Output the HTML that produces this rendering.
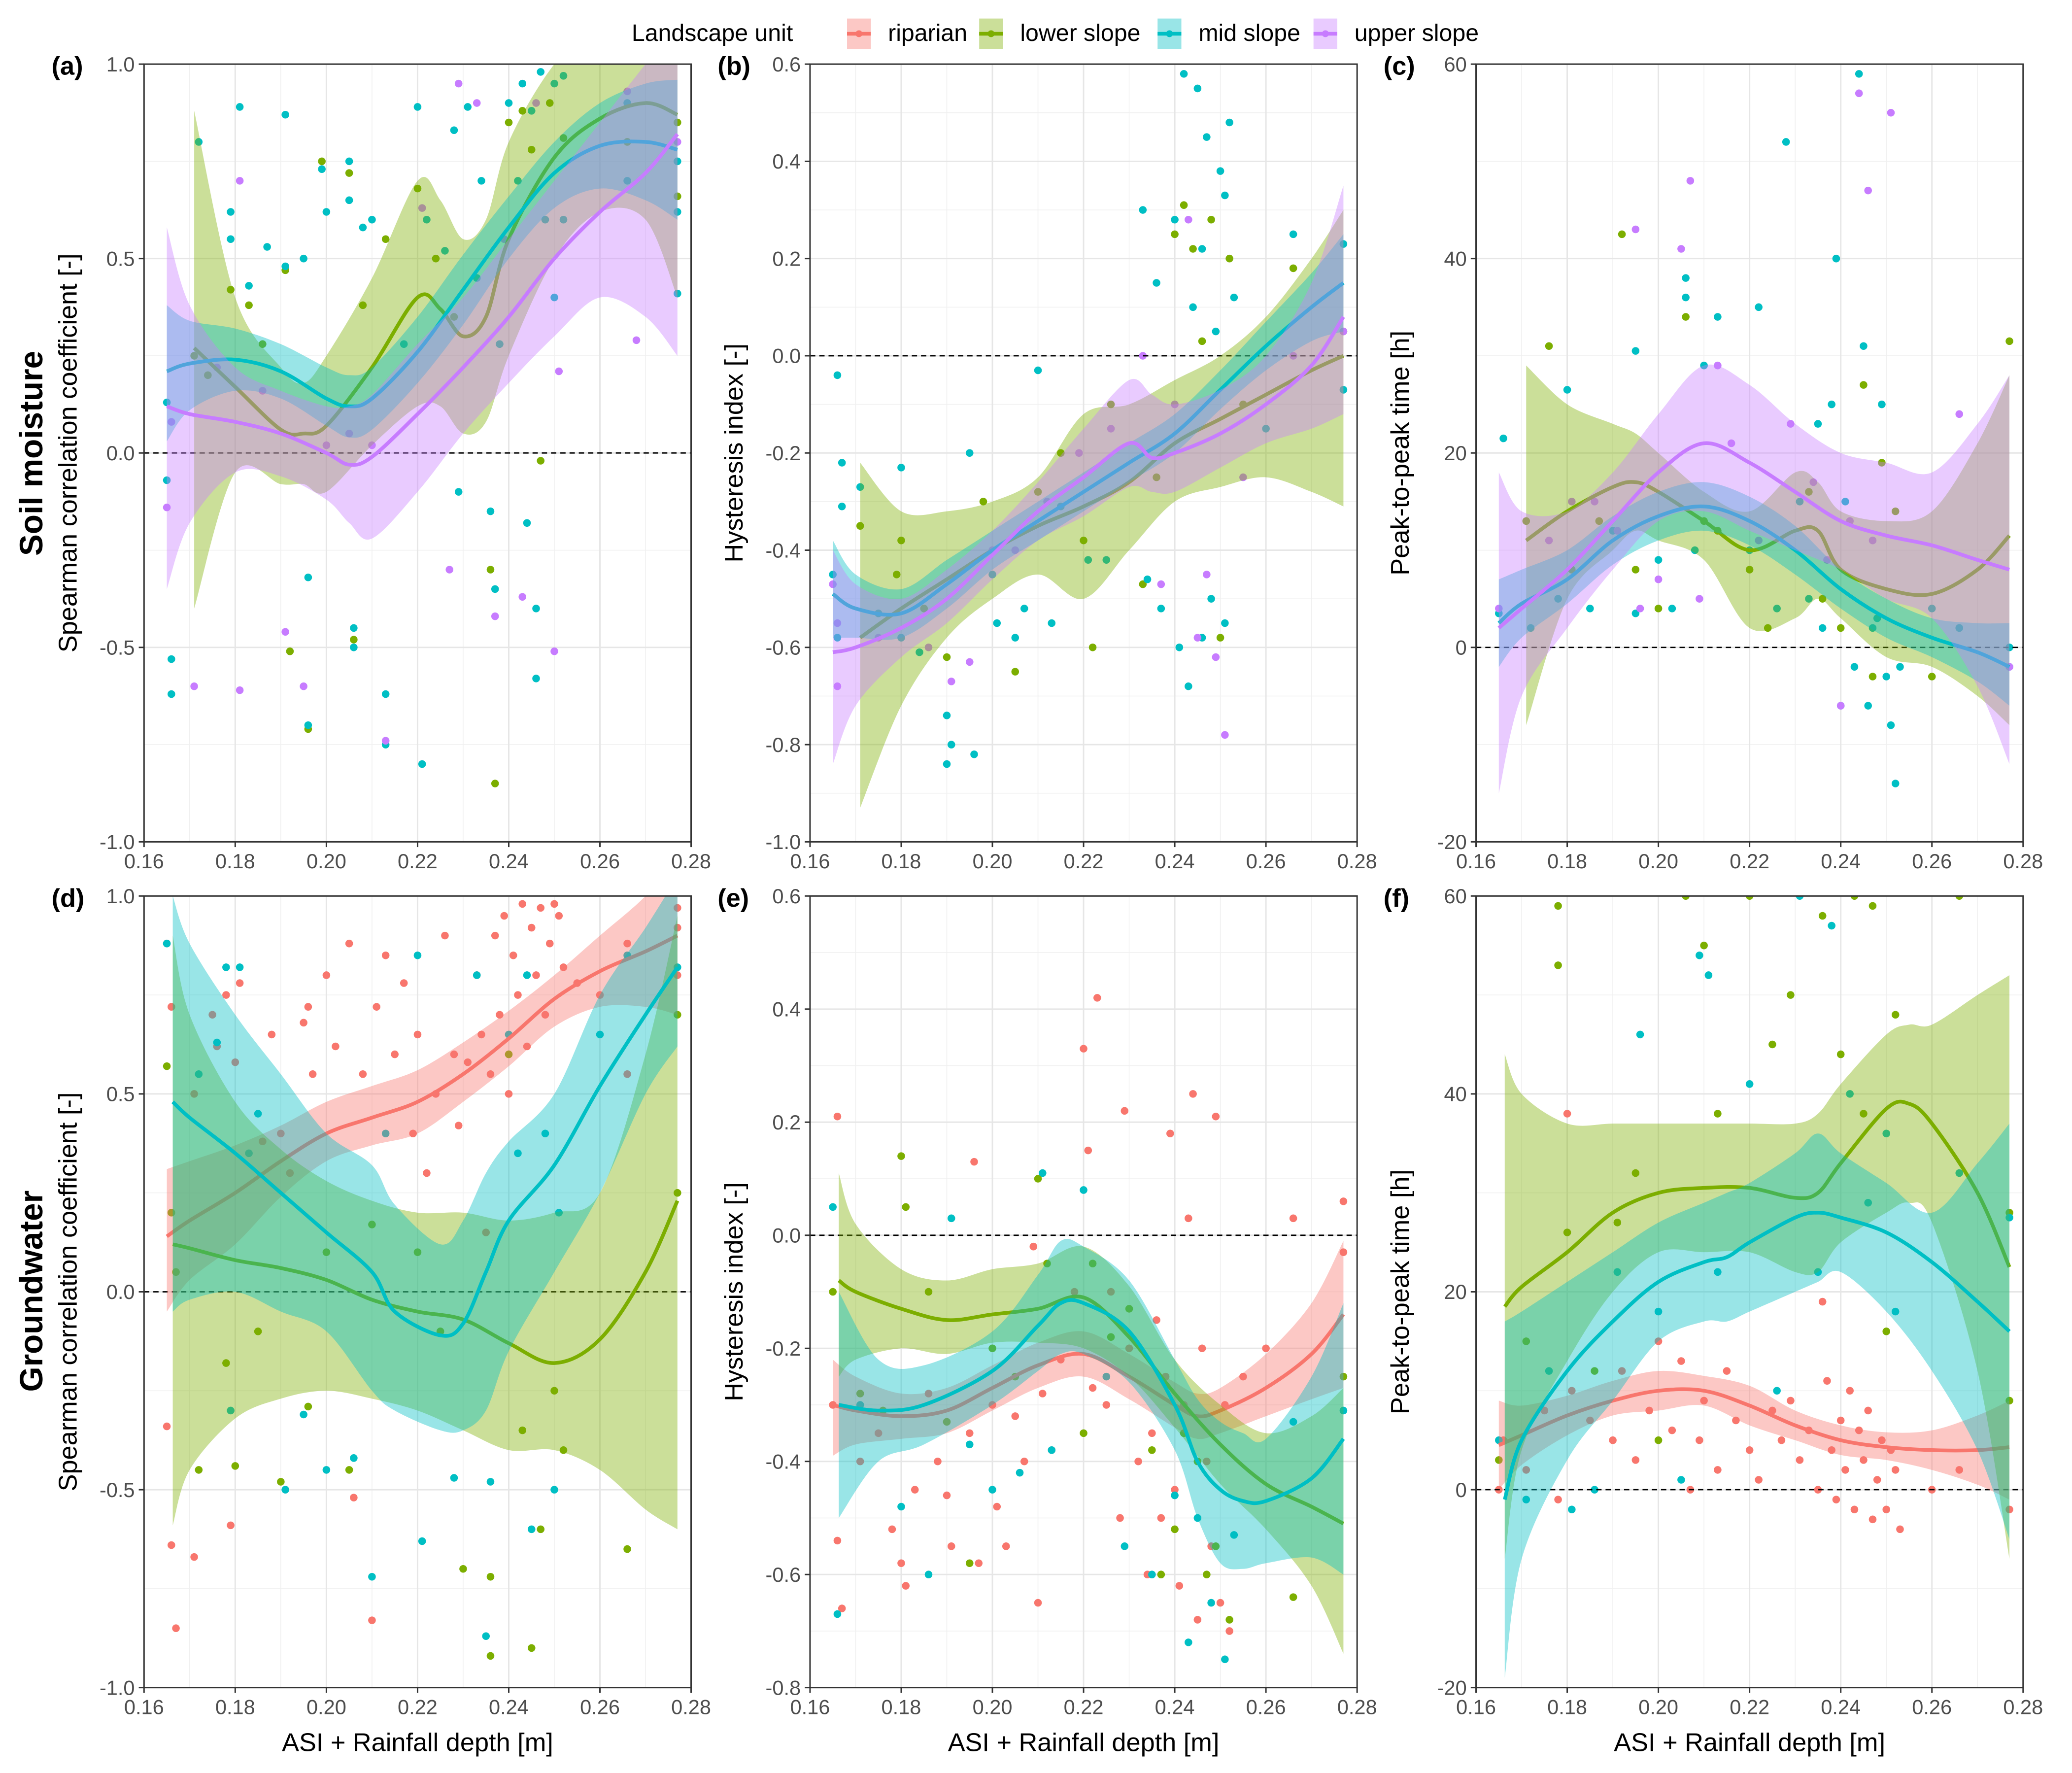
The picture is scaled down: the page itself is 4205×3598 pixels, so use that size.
<!DOCTYPE html>
<html><head><meta charset="utf-8">
<style>
html,body{margin:0;padding:0;background:#fff;}
svg{display:block;}
text{font-family:"Liberation Sans",Arial,sans-serif;}
</style></head>
<body>
<svg id="fig" xmlns="http://www.w3.org/2000/svg" width="4205" height="3598" viewBox="0 0 1568 1341.6">
<rect x="0" y="0" width="1568" height="1342" fill="#fff"/>
<g id="legend">
  <text x="478" y="31" font-size="18" fill="#000">Landscape unit</text>
</g>
</svg>
<script>
// ---------- data: points [x,y,...] ----------
const aMidPts=[0.165,0.13,0.165,-0.07,0.166,-0.53,0.166,-0.62,0.172,0.80,0.179,0.55,0.179,0.62,0.181,0.89,0.183,0.43,0.187,0.53,0.191,0.87,0.191,0.48,0.195,0.50,0.196,-0.32,0.196,-0.70,0.199,0.73,0.200,0.62,0.205,0.75,0.205,0.65,0.206,-0.45,0.206,-0.50,0.208,0.58,0.210,0.60,0.213,-0.62,0.213,-0.75,0.217,0.28,0.220,0.89,0.221,-0.80,0.222,0.60,0.226,0.52,0.228,0.83,0.229,-0.10,0.231,0.89,0.233,0.45,0.234,0.70,0.236,-0.15,0.237,-0.35,0.238,0.28,0.240,0.90,0.242,0.70,0.243,0.95,0.244,-0.18,0.245,0.88,0.246,-0.40,0.246,-0.58,0.247,0.98,0.248,0.60,0.250,0.95,0.250,0.40,0.252,0.97,0.252,0.60,0.266,0.90,0.266,0.70,0.277,0.75,0.277,0.62,0.277,0.41];
const aLowPts=[0.171,0.25,0.174,0.20,0.179,0.42,0.183,0.38,0.186,0.28,0.191,0.47,0.192,-0.51,0.196,-0.71,0.199,0.75,0.205,0.72,0.206,-0.48,0.208,0.38,0.213,0.55,0.220,0.68,0.224,0.50,0.228,0.35,0.236,-0.30,0.237,-0.85,0.240,0.85,0.243,0.88,0.245,0.78,0.247,-0.02,0.249,0.90,0.252,0.81,0.266,0.80,0.277,0.85,0.277,0.66];
const aUpPts=[0.165,-0.14,0.166,0.08,0.171,-0.60,0.176,0.22,0.181,0.70,0.181,-0.61,0.186,0.16,0.191,-0.46,0.195,-0.60,0.200,0.02,0.205,0.05,0.210,0.02,0.213,-0.74,0.221,0.63,0.227,-0.30,0.229,0.95,0.233,0.90,0.237,-0.42,0.239,0.55,0.243,-0.37,0.246,0.90,0.250,-0.51,0.251,0.21,0.266,0.93,0.268,0.29,0.277,0.80];
const bMidPts=[0.165,-0.45,0.166,-0.04,0.166,-0.58,0.167,-0.22,0.167,-0.31,0.171,-0.27,0.175,-0.53,0.180,-0.23,0.180,-0.58,0.184,-0.61,0.190,-0.74,0.190,-0.84,0.191,-0.80,0.195,-0.20,0.196,-0.82,0.200,-0.45,0.201,-0.55,0.205,-0.58,0.207,-0.52,0.210,-0.03,0.213,-0.55,0.215,-0.31,0.221,-0.42,0.225,-0.42,0.233,0.30,0.234,-0.46,0.236,0.15,0.237,-0.52,0.240,0.28,0.241,-0.60,0.242,0.58,0.243,-0.68,0.244,0.10,0.245,0.55,0.246,0.22,0.246,-0.58,0.247,0.45,0.248,-0.50,0.249,0.05,0.250,0.38,0.251,-0.55,0.251,0.33,0.252,0.48,0.253,0.12,0.260,-0.15,0.266,0.25,0.277,0.23,0.277,-0.07];
const bLowPts=[0.171,-0.35,0.179,-0.45,0.180,-0.38,0.185,-0.52,0.190,-0.62,0.198,-0.30,0.205,-0.65,0.210,-0.28,0.215,-0.20,0.220,-0.38,0.222,-0.60,0.226,-0.10,0.233,-0.47,0.236,-0.25,0.240,0.25,0.242,0.31,0.244,0.22,0.246,0.03,0.248,0.28,0.250,-0.58,0.252,0.20,0.255,-0.10,0.266,0.18,0.277,0.05];
const bUpPts=[0.165,-0.47,0.166,-0.68,0.166,-0.55,0.175,-0.58,0.186,-0.60,0.191,-0.67,0.195,-0.63,0.200,-0.40,0.205,-0.40,0.212,-0.30,0.219,-0.20,0.226,-0.15,0.233,0.00,0.237,-0.47,0.240,-0.10,0.243,0.28,0.245,-0.58,0.247,-0.45,0.249,-0.62,0.251,-0.78,0.255,-0.25,0.266,0.00,0.277,0.05];
const cMidPts=[0.165,3.5,0.166,21.5,0.172,2,0.178,5,0.180,26.5,0.185,4,0.190,12,0.195,30.5,0.195,3.5,0.200,9,0.203,4,0.206,36,0.206,38,0.208,10,0.210,29,0.213,34,0.220,10,0.222,35,0.226,4,0.228,52,0.231,15,0.233,5,0.235,23,0.236,2,0.238,25,0.239,40,0.240,-6,0.241,15,0.243,-2,0.244,59,0.245,31,0.246,-6,0.247,2,0.248,3,0.249,25,0.250,-3,0.251,-8,0.252,-14,0.253,-2,0.260,4,0.266,2,0.277,-2,0.277,0];
const cLowPts=[0.171,13,0.176,31,0.181,8,0.187,13,0.192,42.5,0.195,8,0.200,4,0.206,34,0.210,13,0.213,12,0.220,8,0.224,2,0.233,16,0.236,5,0.240,2,0.245,27,0.247,-3,0.249,19,0.252,14,0.260,-3,0.266,2,0.277,31.5];
const cUpPts=[0.165,4,0.176,11,0.181,15,0.186,15,0.191,12,0.195,43,0.196,4,0.200,7,0.205,41,0.207,48,0.209,5,0.213,29,0.216,21,0.222,11,0.229,23,0.234,17,0.237,9,0.240,-6,0.242,13,0.244,57,0.246,47,0.247,11,0.251,55,0.266,24,0.277,-2];
const dRipPts=[0.165,0.88,0.165,-0.34,0.166,0.72,0.166,-0.64,0.167,-0.85,0.171,0.50,0.171,-0.67,0.175,0.70,0.176,0.62,0.178,0.75,0.180,0.58,0.181,0.78,0.179,-0.59,0.186,0.38,0.188,0.65,0.190,0.40,0.192,0.30,0.195,0.68,0.196,0.72,0.197,0.55,0.200,0.80,0.202,0.62,0.205,0.88,0.206,-0.52,0.208,0.55,0.210,-0.83,0.211,0.72,0.213,0.85,0.215,0.60,0.217,0.78,0.219,0.40,0.220,0.65,0.222,0.30,0.224,0.50,0.226,0.90,0.228,0.60,0.229,0.42,0.231,0.58,0.233,0.80,0.234,0.65,0.235,0.15,0.236,0.55,0.237,0.90,0.238,0.70,0.239,0.95,0.240,0.50,0.241,0.85,0.242,0.75,0.243,0.98,0.244,0.62,0.245,0.92,0.246,0.80,0.247,0.97,0.248,0.70,0.249,0.88,0.250,0.98,0.251,0.95,0.252,0.82,0.255,0.78,0.260,0.75,0.266,0.88,0.266,0.55,0.277,0.92,0.277,0.97,0.277,0.80];
const dLowPts=[0.165,0.57,0.166,0.20,0.167,0.05,0.172,-0.45,0.178,-0.18,0.180,-0.44,0.185,-0.10,0.190,-0.48,0.196,-0.29,0.200,0.10,0.205,-0.45,0.210,0.17,0.220,0.10,0.225,-0.10,0.230,-0.70,0.236,-0.72,0.236,-0.92,0.240,0.60,0.243,-0.35,0.245,-0.90,0.247,-0.60,0.250,-0.25,0.252,-0.40,0.266,-0.65,0.277,0.70,0.277,0.25];
const dMidPts=[0.165,0.88,0.172,0.55,0.176,0.63,0.178,0.82,0.181,0.82,0.183,0.35,0.179,-0.30,0.185,0.45,0.191,-0.50,0.195,-0.31,0.200,-0.45,0.206,-0.42,0.210,-0.72,0.213,0.40,0.220,0.85,0.221,-0.63,0.228,-0.47,0.233,0.80,0.235,-0.87,0.236,-0.48,0.240,0.65,0.242,0.35,0.244,0.80,0.245,-0.60,0.248,0.40,0.250,-0.50,0.251,0.20,0.260,0.65,0.266,0.85,0.277,0.82];
const eRipPts=[0.165,-0.30,0.166,0.21,0.166,-0.54,0.167,-0.66,0.171,-0.40,0.175,-0.35,0.178,-0.52,0.180,-0.58,0.181,-0.62,0.183,-0.45,0.186,-0.28,0.188,-0.40,0.190,-0.46,0.191,-0.55,0.195,-0.35,0.196,0.13,0.197,-0.58,0.200,-0.30,0.201,-0.48,0.203,-0.55,0.205,-0.32,0.207,-0.40,0.209,-0.02,0.210,-0.65,0.211,-0.28,0.213,-0.38,0.215,-0.22,0.218,-0.10,0.220,0.33,0.221,0.15,0.222,-0.27,0.223,0.42,0.225,-0.30,0.226,-0.10,0.228,-0.50,0.229,0.22,0.230,-0.20,0.232,-0.40,0.234,-0.60,0.235,-0.35,0.236,-0.15,0.237,-0.50,0.238,-0.25,0.239,0.18,0.240,-0.45,0.241,-0.62,0.242,-0.30,0.243,0.03,0.244,0.25,0.245,-0.68,0.246,-0.20,0.247,-0.40,0.248,-0.55,0.249,0.21,0.250,-0.65,0.251,-0.30,0.252,-0.70,0.255,-0.25,0.260,-0.20,0.266,0.03,0.277,0.06,0.277,-0.03];
const eLowPts=[0.165,-0.10,0.171,-0.28,0.176,-0.31,0.180,0.14,0.181,0.05,0.186,-0.10,0.190,-0.33,0.195,-0.58,0.200,-0.20,0.205,-0.25,0.210,0.10,0.212,-0.05,0.220,-0.35,0.222,-0.05,0.226,-0.18,0.230,-0.13,0.235,-0.38,0.237,-0.60,0.240,-0.52,0.242,-0.35,0.245,-0.40,0.247,-0.60,0.249,-0.55,0.252,-0.68,0.266,-0.64,0.277,-0.25];
const eMidPts=[0.165,0.05,0.166,-0.67,0.171,-0.30,0.180,-0.48,0.186,-0.60,0.191,0.03,0.195,-0.37,0.200,-0.45,0.206,-0.42,0.211,0.11,0.213,-0.38,0.220,0.08,0.225,-0.25,0.229,-0.55,0.235,-0.60,0.240,-0.46,0.243,-0.72,0.245,-0.50,0.248,-0.65,0.251,-0.75,0.253,-0.53,0.266,-0.33,0.277,-0.31];
const fRipPts=[0.165,0,0.166,5,0.171,2,0.175,8,0.178,-1,0.180,38,0.181,10,0.185,7,0.190,5,0.192,12,0.195,3,0.198,8,0.200,15,0.203,6,0.205,13,0.207,0,0.209,5,0.210,9,0.213,2,0.215,12,0.217,7,0.220,4,0.222,1,0.225,8,0.227,5,0.229,9,0.231,3,0.233,6,0.235,0,0.236,19,0.237,11,0.238,4,0.239,-1,0.240,7,0.241,2,0.242,10,0.243,-2,0.244,6,0.245,3,0.246,8,0.247,-3,0.248,1,0.249,5,0.250,-2,0.251,4,0.252,2,0.253,-4,0.260,0,0.266,2,0.277,-2];
const fLowPts=[0.165,3,0.171,15,0.178,59,0.178,53,0.180,26,0.186,12,0.191,27,0.195,32,0.200,5,0.206,60,0.210,55,0.213,38,0.220,60,0.225,45,0.229,50,0.236,58,0.240,44,0.243,60,0.245,38,0.247,59,0.250,16,0.252,48,0.266,60,0.277,28,0.277,9];
const fMidPts=[0.165,5,0.171,-1,0.176,12,0.181,-2,0.186,0,0.191,22,0.196,46,0.200,18,0.205,1,0.209,54,0.211,52,0.213,22,0.220,41,0.226,10,0.231,60,0.235,22,0.238,57,0.242,40,0.246,29,0.250,36,0.252,18,0.266,32,0.277,27.5];

// ---------- data: smooth fits [x, fit, lower, upper] ----------
const aMidFit=[[0.165,0.21,0.03,0.38],[0.17,0.23,0.11,0.34],[0.18,0.24,0.16,0.32],[0.19,0.21,0.14,0.28],[0.20,0.14,0.07,0.22],[0.205,0.12,0.04,0.20],[0.21,0.14,0.06,0.22],[0.22,0.26,0.18,0.35],[0.23,0.42,0.33,0.51],[0.24,0.58,0.50,0.66],[0.25,0.72,0.63,0.80],[0.26,0.79,0.68,0.90],[0.27,0.80,0.65,0.95],[0.277,0.78,0.60,0.96]];
const aLowFit=[[0.171,0.27,-0.40,0.88],[0.18,0.17,-0.05,0.40],[0.19,0.06,-0.08,0.22],[0.195,0.05,-0.08,0.18],[0.20,0.07,-0.10,0.25],[0.21,0.22,0.02,0.45],[0.22,0.40,0.12,0.70],[0.225,0.37,0.12,0.65],[0.23,0.30,0.05,0.55],[0.235,0.35,0.08,0.60],[0.24,0.55,0.25,0.80],[0.25,0.76,0.50,1.0],[0.26,0.86,0.62,1.1],[0.27,0.90,0.60,1.2],[0.277,0.87,0.40,1.3]];
const aUpFit=[[0.165,0.12,-0.35,0.58],[0.17,0.10,-0.18,0.38],[0.18,0.08,-0.05,0.22],[0.19,0.05,-0.06,0.16],[0.20,0.0,-0.12,0.12],[0.205,-0.03,-0.18,0.12],[0.21,-0.01,-0.22,0.15],[0.22,0.10,-0.10,0.28],[0.23,0.22,0.05,0.40],[0.24,0.35,0.18,0.55],[0.25,0.50,0.30,0.70],[0.26,0.62,0.40,0.85],[0.27,0.72,0.35,1.0],[0.277,0.82,0.25,1.1]];
const bMidFit=[[0.165,-0.49,-0.58,-0.38],[0.17,-0.52,-0.58,-0.45],[0.18,-0.53,-0.58,-0.48],[0.19,-0.47,-0.52,-0.42],[0.20,-0.40,-0.44,-0.36],[0.21,-0.34,-0.38,-0.30],[0.22,-0.28,-0.32,-0.24],[0.23,-0.22,-0.26,-0.18],[0.24,-0.16,-0.20,-0.12],[0.25,-0.07,-0.11,-0.03],[0.26,0.02,-0.03,0.07],[0.27,0.10,0.03,0.17],[0.277,0.15,0.05,0.25]];
const bLowFit=[[0.171,-0.58,-0.93,-0.22],[0.18,-0.52,-0.72,-0.32],[0.19,-0.46,-0.58,-0.32],[0.20,-0.40,-0.50,-0.30],[0.21,-0.35,-0.45,-0.25],[0.22,-0.31,-0.50,-0.12],[0.23,-0.26,-0.40,-0.10],[0.24,-0.18,-0.30,-0.05],[0.25,-0.13,-0.27,0.0],[0.26,-0.08,-0.25,0.08],[0.27,-0.03,-0.28,0.20],[0.277,0.0,-0.31,0.30]];
const bUpFit=[[0.165,-0.61,-0.84,-0.40],[0.17,-0.60,-0.72,-0.47],[0.18,-0.56,-0.62,-0.50],[0.19,-0.50,-0.55,-0.44],[0.20,-0.41,-0.46,-0.36],[0.21,-0.32,-0.38,-0.26],[0.22,-0.25,-0.33,-0.15],[0.23,-0.18,-0.27,-0.05],[0.235,-0.21,-0.28,-0.08],[0.24,-0.20,-0.28,-0.10],[0.25,-0.16,-0.23,-0.07],[0.26,-0.10,-0.18,0.0],[0.27,-0.02,-0.15,0.15],[0.277,0.08,-0.12,0.35]];
const cMidFit=[[0.165,2.5,-2,7],[0.17,4.5,1,8],[0.18,7,4.5,10],[0.19,11,8.5,13.5],[0.20,13.5,11,16],[0.21,14.5,12,17],[0.22,13,10.5,15.5],[0.23,10,7.5,12.5],[0.24,6,4,8],[0.25,3,1,5],[0.26,1,-1,3],[0.27,-0.5,-3.5,2.5],[0.277,-2,-6,2.5]];
const cLowFit=[[0.171,11,-8,29],[0.18,14,5,25],[0.19,16.5,10,23],[0.195,17,12,22],[0.20,16,11,20],[0.21,13,9,16],[0.22,10,2,14],[0.23,12,3,18],[0.235,12,5,17],[0.24,8,3,14],[0.25,6,-1,13],[0.26,5.5,-2,14],[0.27,8,-5,21],[0.277,11.5,-8,28]];
const cUpFit=[[0.165,2,-15,18],[0.17,4,-5,14],[0.18,8,2,14],[0.19,13,8,18],[0.20,18,13,24],[0.21,21,14,29],[0.22,19,12,27],[0.23,16,10,23],[0.24,13,8,20],[0.25,11.5,5,19],[0.26,10.5,3,18],[0.27,9,-4,23],[0.277,8,-12,28]];
const dRipFit=[[0.165,0.14,-0.05,0.31],[0.17,0.18,0.03,0.33],[0.18,0.25,0.12,0.37],[0.19,0.33,0.24,0.42],[0.20,0.40,0.33,0.48],[0.21,0.44,0.37,0.52],[0.22,0.48,0.40,0.56],[0.23,0.55,0.48,0.63],[0.24,0.64,0.57,0.71],[0.25,0.74,0.67,0.80],[0.26,0.81,0.72,0.90],[0.27,0.86,0.72,1.0],[0.277,0.90,0.70,1.1]];
const dLowFit=[[0.1663,0.12,-0.59,0.90],[0.17,0.11,-0.45,0.70],[0.18,0.08,-0.32,0.48],[0.19,0.06,-0.27,0.36],[0.20,0.03,-0.25,0.28],[0.21,-0.02,-0.27,0.23],[0.22,-0.05,-0.30,0.20],[0.23,-0.07,-0.35,0.20],[0.24,-0.13,-0.40,0.18],[0.25,-0.18,-0.40,0.20],[0.26,-0.12,-0.45,0.25],[0.27,0.05,-0.55,0.60],[0.277,0.23,-0.60,0.95]];
const dMidFit=[[0.1663,0.48,-0.05,1.0],[0.17,0.44,-0.02,0.88],[0.18,0.35,0.0,0.70],[0.19,0.25,-0.05,0.55],[0.20,0.15,-0.10,0.40],[0.21,0.05,-0.25,0.32],[0.215,-0.05,-0.30,0.22],[0.225,-0.11,-0.35,0.12],[0.23,-0.08,-0.35,0.18],[0.235,0.05,-0.30,0.30],[0.24,0.18,-0.15,0.38],[0.25,0.32,0.05,0.50],[0.26,0.52,0.25,0.75],[0.27,0.70,0.50,0.92],[0.277,0.82,0.62,1.05]];
const eRipFit=[[0.165,-0.30,-0.39,-0.22],[0.17,-0.31,-0.37,-0.25],[0.18,-0.32,-0.36,-0.28],[0.19,-0.31,-0.35,-0.27],[0.20,-0.27,-0.31,-0.23],[0.21,-0.23,-0.27,-0.19],[0.22,-0.21,-0.25,-0.17],[0.23,-0.25,-0.29,-0.21],[0.24,-0.30,-0.34,-0.26],[0.245,-0.32,-0.36,-0.28],[0.25,-0.31,-0.35,-0.27],[0.26,-0.27,-0.32,-0.21],[0.27,-0.21,-0.29,-0.12],[0.277,-0.14,-0.27,-0.01]];
const eLowFit=[[0.1663,-0.08,-0.25,0.11],[0.17,-0.10,-0.22,0.02],[0.18,-0.13,-0.20,-0.06],[0.19,-0.15,-0.21,-0.08],[0.20,-0.14,-0.19,-0.06],[0.21,-0.13,-0.19,-0.05],[0.22,-0.11,-0.20,-0.02],[0.23,-0.18,-0.25,-0.09],[0.24,-0.28,-0.34,-0.22],[0.25,-0.37,-0.44,-0.30],[0.26,-0.44,-0.52,-0.35],[0.27,-0.48,-0.62,-0.32],[0.277,-0.51,-0.74,-0.27]];
const eMidFit=[[0.1663,-0.30,-0.50,-0.10],[0.175,-0.31,-0.40,-0.22],[0.185,-0.30,-0.37,-0.23],[0.20,-0.24,-0.30,-0.17],[0.21,-0.16,-0.24,-0.07],[0.215,-0.12,-0.21,-0.01],[0.22,-0.12,-0.21,-0.02],[0.23,-0.17,-0.26,-0.08],[0.24,-0.30,-0.38,-0.22],[0.245,-0.40,-0.50,-0.29],[0.25,-0.45,-0.58,-0.33],[0.255,-0.47,-0.59,-0.35],[0.26,-0.47,-0.58,-0.36],[0.27,-0.43,-0.57,-0.25],[0.277,-0.36,-0.60,-0.12]];
const fRipFit=[[0.165,4.5,0,9],[0.17,5.5,2.5,8.5],[0.18,7.5,5.5,9.5],[0.19,9,7.5,11],[0.20,10,8,12],[0.21,10,8.5,11.5],[0.22,8.5,6.5,10.5],[0.23,6.5,5,8],[0.24,5,3.5,6.5],[0.25,4.3,3,5.8],[0.26,4,2,6],[0.27,4,0.5,7.5],[0.277,4.3,-1,9]];
const fLowFit=[[0.1663,18.5,-7,44],[0.17,20.5,4,40],[0.18,24,13,37],[0.19,28,20,37],[0.20,30,24,37],[0.21,30.5,24,37],[0.22,30.5,24,37],[0.23,29.5,22,37],[0.235,30,22,38],[0.24,33,25,41],[0.25,38.5,28,46],[0.255,39,29,47],[0.26,37,27,47],[0.27,30,12,50],[0.277,22.5,-7,52]];
const fMidFit=[[0.1663,-1,-19,17],[0.17,5,-7,18],[0.18,12,3,21],[0.19,17,9,24],[0.20,21,15,27],[0.21,23,17,29],[0.215,23.5,17,30],[0.22,25,18,31],[0.23,27.5,20,34],[0.235,28,21,36],[0.24,27.5,22,34],[0.25,26,18,31],[0.26,23,12,28],[0.27,19,4,33],[0.277,16,-5,37]];

// ---------- tick labels ----------
const xTicks=[0.16,0.18,0.20,0.22,0.24,0.26,0.28];
const xTickLabels=["0.16","0.18","0.20","0.22","0.24","0.26","0.28"];
const corrTicks=[-1,-0.5,0,0.5,1];
const corrTickLabels=["-1.0","-0.5","0.0","0.5","1.0"];
const hystTopTicks=[-1,-0.8,-0.6,-0.4,-0.2,0,0.2,0.4,0.6];
const hystTopLabels=["-1.0","-0.8","-0.6","-0.4","-0.2","0.0","0.2","0.4","0.6"];
const hystBotTicks=[-0.8,-0.6,-0.4,-0.2,0,0.2,0.4,0.6];
const hystBotLabels=["-0.8","-0.6","-0.4","-0.2","0.0","0.2","0.4","0.6"];
const timeTicks=[-20,0,20,40,60];
const timeTickLabels=["-20","0","20","40","60"];

const unitNames=["riparian","lower slope","mid slope","upper slope"];
const unitColors=["#F8766D","#7CAE00","#00BFC4","#C77CFF"];

// ---------- layout ----------
const NS="http://www.w3.org/2000/svg";
const svg=document.getElementById('fig');
function mk(tag,attrs,parent){const e=document.createElementNS(NS,tag);for(const k in attrs)e.setAttribute(k,attrs[k]);(parent||svg).appendChild(e);return e;}

const panels=[
 {id:'a',L:109,T:48.5,B:637,ymin:-1,ymax:1,yt:corrTicks,yl:corrTickLabels,title:"Spearman correlation coefficient [-]",series:[[1,aLowPts,aLowFit],[2,aMidPts,aMidFit],[3,aUpPts,aUpFit]]},
 {id:'b',L:613,T:48.5,B:637,ymin:-1,ymax:0.6,yt:hystTopTicks,yl:hystTopLabels,title:"Hysteresis index [-]",series:[[1,bLowPts,bLowFit],[2,bMidPts,bMidFit],[3,bUpPts,bUpFit]]},
 {id:'c',L:1117,T:48.5,B:637,ymin:-20,ymax:60,yt:timeTicks,yl:timeTickLabels,title:"Peak-to-peak time [h]",series:[[1,cLowPts,cLowFit],[2,cMidPts,cMidFit],[3,cUpPts,cUpFit]]},
 {id:'d',L:109,T:678,B:1277,ymin:-1,ymax:1,yt:corrTicks,yl:corrTickLabels,title:"Spearman correlation coefficient [-]",series:[[0,dRipPts,dRipFit],[1,dLowPts,dLowFit],[2,dMidPts,dMidFit]]},
 {id:'e',L:613,T:678,B:1277,ymin:-0.8,ymax:0.6,yt:hystBotTicks,yl:hystBotLabels,title:"Hysteresis index [-]",series:[[0,eRipPts,eRipFit],[1,eLowPts,eLowFit],[2,eMidPts,eMidFit]]},
 {id:'f',L:1117,T:678,B:1277,ymin:-20,ymax:60,yt:timeTicks,yl:timeTickLabels,title:"Peak-to-peak time [h]",series:[[0,fRipPts,fRipFit],[1,fLowPts,fLowFit],[2,fMidPts,fMidFit]]}
];
const PW=414, XMIN=0.16, XMAX=0.28;

function smoothPath(pts){
  let d='M'+pts[0][0].toFixed(2)+','+pts[0][1].toFixed(2);
  for(let i=0;i<pts.length-1;i++){
    const p0=pts[Math.max(0,i-1)],p1=pts[i],p2=pts[i+1],p3=pts[Math.min(pts.length-1,i+2)];
    const c1=[p1[0]+(p2[0]-p0[0])/6,p1[1]+(p2[1]-p0[1])/6];
    const c2=[p2[0]-(p3[0]-p1[0])/6,p2[1]-(p3[1]-p1[1])/6];
    d+='C'+c1[0].toFixed(2)+','+c1[1].toFixed(2)+' '+c2[0].toFixed(2)+','+c2[1].toFixed(2)+' '+p2[0].toFixed(2)+','+p2[1].toFixed(2);
  }
  return d;
}
function smoothCont(pts){let d=smoothPath(pts);return d.replace(/^M/,'L');}

panels.forEach(p=>{
  const R=p.L+PW;
  const xs=v=>p.L+(v-XMIN)/(XMAX-XMIN)*PW;
  const ys=v=>p.B-(v-p.ymin)/(p.ymax-p.ymin)*(p.B-p.T);
  const g=mk('g',{});
  
  
  const clip=mk('clipPath',{id:'clip'+p.id},g);
  mk('rect',{x:p.L,y:p.T,width:PW,height:p.B-p.T},clip);
  const grid=mk('g',{},g);
  
  
  for(let i=0;i<xTicks.length-1;i++){
    const m=(xTicks[i]+xTicks[i+1])/2;
    mk('line',{x1:xs(m),x2:xs(m),y1:p.T,y2:p.B,stroke:'#f0f0f0','stroke-width':0.6},grid);
  }
  for(let i=0;i<p.yt.length-1;i++){
    const m=(p.yt[i]+p.yt[i+1])/2;
    mk('line',{x1:p.L,x2:R,y1:ys(m),y2:ys(m),stroke:'#f0f0f0','stroke-width':0.6},grid);
  }
  xTicks.forEach(v=>mk('line',{x1:xs(v),x2:xs(v),y1:p.T,y2:p.B,stroke:'#e6e6e6','stroke-width':1.1},grid));
  p.yt.forEach(v=>mk('line',{x1:p.L,x2:R,y1:ys(v),y2:ys(v),stroke:'#e6e6e6','stroke-width':1.1},grid));
  const plot=mk('g',{'clip-path':'url(#clip'+p.id+')'},g);
  p.series.forEach(s=>{
    const [ci,pts]=s;
    const pg=mk('g',{fill:unitColors[ci]},plot);
    
    
    for(let i=0;i<pts.length;i+=2){
      const c=mk('circle',{cx:xs(pts[i]),cy:ys(pts[i+1]),r:2.9},pg);
      
      
    }
  });
  const z=mk('line',{x1:p.L,x2:R,y1:ys(0),y2:ys(0),stroke:'#000','stroke-width':1,'stroke-dasharray':'4,3'},plot);
  
  
  p.series.forEach(s=>{
    const [ci,,fit]=s;
    const hi=fit.map(r=>[xs(r[0]),ys(r[3])]);
    const lo=fit.map(r=>[xs(r[0]),ys(r[2])]).reverse();
    const rib=mk('path',{d:smoothPath(hi)+smoothCont(lo)+'Z',fill:unitColors[ci],'fill-opacity':0.4,stroke:'none'},plot);
    
    
    const ln=mk('path',{d:smoothPath(fit.map(r=>[xs(r[0]),ys(r[1])])),fill:'none',stroke:unitColors[ci],'stroke-width':2.8},plot);
    
    
  });
  const fr=mk('rect',{x:p.L,y:p.T,width:PW,height:p.B-p.T,fill:'none',stroke:'#333','stroke-width':1.1},g);
  
  
  const xa=mk('g',{},g);
  
  
  xTicks.forEach((v,i)=>{
    mk('line',{x1:xs(v),x2:xs(v),y1:p.B,y2:p.B+4,stroke:'#333','stroke-width':1.1},xa);
    const t=mk('text',{x:xs(v),y:p.B+20,'text-anchor':'middle','font-size':15.5,fill:'#4d4d4d'},xa);
    t.textContent=xTickLabels[i];
    
    
  });
  const ya=mk('g',{},g);
  
  
  p.yt.forEach((v,i)=>{
    mk('line',{x1:p.L-4,x2:p.L,y1:ys(v),y2:ys(v),stroke:'#333','stroke-width':1.1},ya);
    const t=mk('text',{x:p.L-7,y:ys(v)+5.5,'text-anchor':'end','font-size':15.5,fill:'#4d4d4d'},ya);
    t.textContent=p.yl[i];
    
    
  });
  const yt=mk('text',{x:0,y:0,transform:'translate('+(p.L-51)+','+((p.T+p.B)/2)+') rotate(-90)','text-anchor':'middle','font-size':19.5,fill:'#000'},g);
  yt.textContent=p.title;
  
  
  const lab=mk('text',{x:p.L-70,y:p.T+8,'font-size':19.5,'font-weight':'bold',fill:'#000'},g);
  lab.textContent='('+p.id+')';
  
  
  if(p.T>600){
    const xt=mk('text',{x:p.L+PW/2,y:1325,'text-anchor':'middle','font-size':19.5,fill:'#000'},g);
    xt.textContent='ASI + Rainfall depth [m]';
    
    
  }
});
[['Soil moisture',343],['Groundwater',977]].forEach(r=>{
  const t=mk('text',{transform:'translate(32,'+r[1]+') rotate(-90)','text-anchor':'middle','font-size':24.5,'font-weight':'bold',fill:'#000'});
  t.textContent=r[0];
  
  
});
const legend=document.getElementById('legend');
const keyX=[641,741,876,994];
unitNames.forEach((n,i)=>{
  const kg=mk('g',{},legend);
  
  
  mk('rect',{x:keyX[i],y:14,width:18,height:23,fill:unitColors[i],'fill-opacity':0.4},kg);
  mk('line',{x1:keyX[i],x2:keyX[i]+18,y1:25.5,y2:25.5,stroke:unitColors[i],'stroke-width':2.8},kg);
  mk('circle',{cx:keyX[i]+9,cy:25.5,r:2.6,fill:unitColors[i]},kg);
  const t=mk('text',{x:keyX[i]+31,y:31,'font-size':18,fill:'#000'},kg);
  t.textContent=n;
});
</script>
</body></html>
